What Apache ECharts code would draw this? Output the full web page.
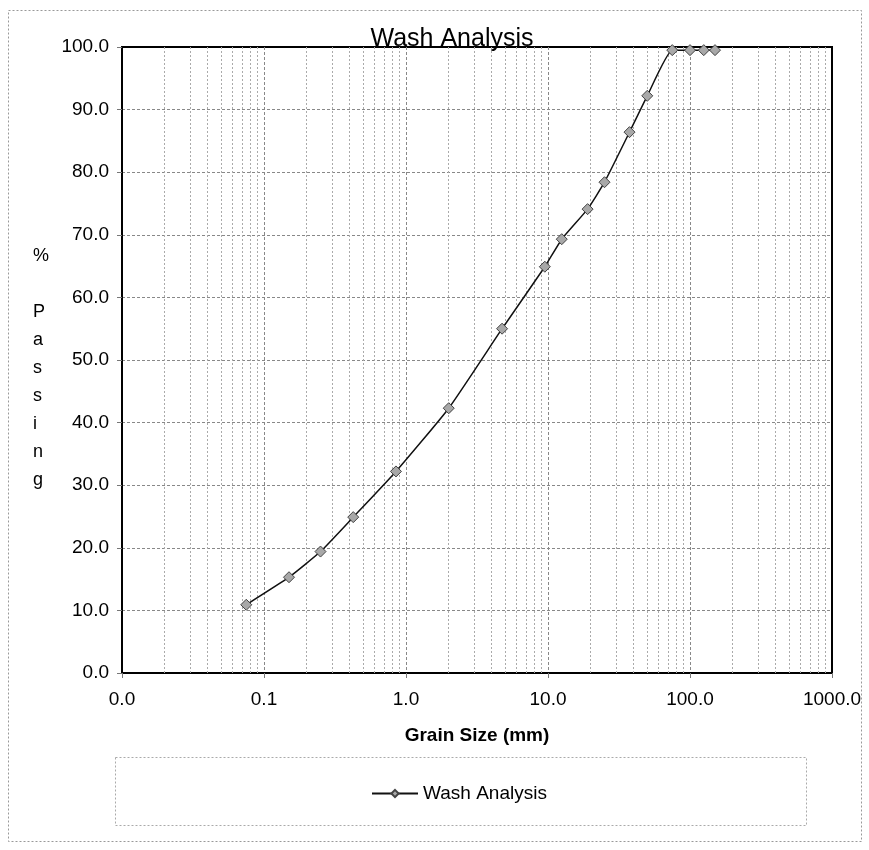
<!DOCTYPE html>
<html lang="en">
<head>
    <meta charset="UTF-8">
    <title>Wash Analysis</title>
    <style type="text/css">
        *{
            margin: 0px;
            padding: 0px;
        }
        body{
            background: #fff;
        }
        #chart{
            width: 869px;
            height: 850px;
        }
    </style>
</head>
<body>
<div id="chart"></div>
<script src="https://cdn.jsdelivr.net/npm/echarts@6/dist/echarts.min.js"></script>
<script type="text/javascript">
  // sieve sizes (mm) and % passing
  var grainSize = [0.075, 0.15, 0.25, 0.425, 0.85, 2.0, 4.75, 9.5, 12.5, 19, 25, 37.5, 50, 75, 100, 125, 150];
  var passing = [10.9, 15.3, 19.4, 24.9, 32.2, 42.3, 55.0, 64.9, 69.3, 74.1, 78.4, 86.4, 92.2, 99.5, 99.5, 99.5, 99.5];
  // minor log gridlines 2..9 in each decade
  var minorLines = [0.02, 0.03, 0.04, 0.05, 0.06, 0.07, 0.08, 0.09,
    0.2, 0.3, 0.4, 0.5, 0.6, 0.7, 0.8, 0.9,
    2, 3, 4, 5, 6, 7, 8, 9,
    20, 30, 40, 50, 60, 70, 80, 90,
    200, 300, 400, 500, 600, 700, 800, 900];

  var pts = [];
  for (var i = 0; i < grainSize.length; i++) {
    pts.push([grainSize[i], passing[i]]);
  }
  var minorData = [];
  for (var j = 0; j < minorLines.length; j++) {
    minorData.push({xAxis: minorLines[j]});
  }

  var font = 'Liberation Sans, Arial, sans-serif';
  var myChart = echarts.init(document.getElementById('chart'));

  myChart.setOption({
    animation: false,
    backgroundColor: '#fff',
    title: {
      text: 'Wash Analysis',
      left: 447,
      textAlign: 'center',
      top: 22,
      textStyle: {fontFamily: font, fontSize: 25, fontWeight: 'normal', color: '#000'}
    },
    graphic: [
      {
        type: 'rect',
        shape: {x: 8.5, y: 10.5, width: 853, height: 831},
        style: {fill: 'none', stroke: '#999', lineWidth: 1, lineDash: [2, 2]},
        z: -1
      },
      {
        type: 'rect',
        shape: {x: 115.5, y: 757.5, width: 691, height: 68},
        style: {fill: 'none', stroke: '#aaa', lineWidth: 1, lineDash: [2, 2]}
      },
      {
        type: 'text',
        left: 33,
        top: 242,
        style: {
          text: '%\n\nP\na\ns\ns\ni\nn\ng',
          font: '18px Liberation Sans, Arial, sans-serif',
          lineHeight: 28,
          fill: '#000',
          align: 'center'
        }
      }
    ],
    legend: {
      left: 366,
      top: 779,
      itemWidth: 46,
      itemHeight: 9,
      itemGap: 4,
      textStyle: {fontFamily: font, fontSize: 19, color: '#000'},
      data: ['Wash Analysis']
    },
    grid: {
      left: 122,
      right: 37,
      top: 47,
      bottom: 177,
      show: true,
      borderColor: '#000',
      borderWidth: 2
    },
    xAxis: {
      type: 'log',
      logBase: 10,
      min: 0.01,
      max: 1000,
      name: 'Grain Size (mm)',
      nameLocation: 'middle',
      nameGap: 53,
      nameTextStyle: {fontFamily: font, fontSize: 19, fontWeight: 'bold', color: '#000'},
      axisLine: {lineStyle: {color: '#000', width: 2}},
      axisTick: {show: true, length: 5, lineStyle: {color: '#777'}},
      axisLabel: {
        margin: 17,
        fontFamily: font,
        fontSize: 19,
        color: '#000',
        formatter: function (v) { return v.toFixed(1); }
      },
      splitLine: {show: true, showMinLine: false, showMaxLine: false, lineStyle: {color: '#888', type: [3, 2], width: 1}}
    },
    yAxis: {
      type: 'value',
      min: 0,
      max: 100,
      interval: 10,
      axisLine: {show: true, lineStyle: {color: '#000', width: 2}},
      axisTick: {show: true, length: 5, lineStyle: {color: '#777'}},
      axisLabel: {
        margin: 13,
        fontFamily: font,
        fontSize: 19,
        color: '#000',
        formatter: function (v) { return v.toFixed(1); }
      },
      splitLine: {show: true, showMinLine: false, showMaxLine: false, lineStyle: {color: '#888', type: [3, 2], width: 1}}
    },
    series: [
      {
        name: 'Wash Analysis',
        type: 'line',
        data: pts,
        smooth: 0.15,
        symbol: 'diamond',
        symbolSize: 11,
        lineStyle: {color: '#111', width: 1.5},
        itemStyle: {color: '#a8a8a8', borderColor: '#444', borderWidth: 1},
        z: 5,
        markLine: {
          silent: true,
          symbol: ['none', 'none'],
          label: {show: false},
          lineStyle: {color: '#aaa', type: [2, 2], width: 1},
          data: minorData
        }
      }
    ]
  });
</script>
</body>
</html>
